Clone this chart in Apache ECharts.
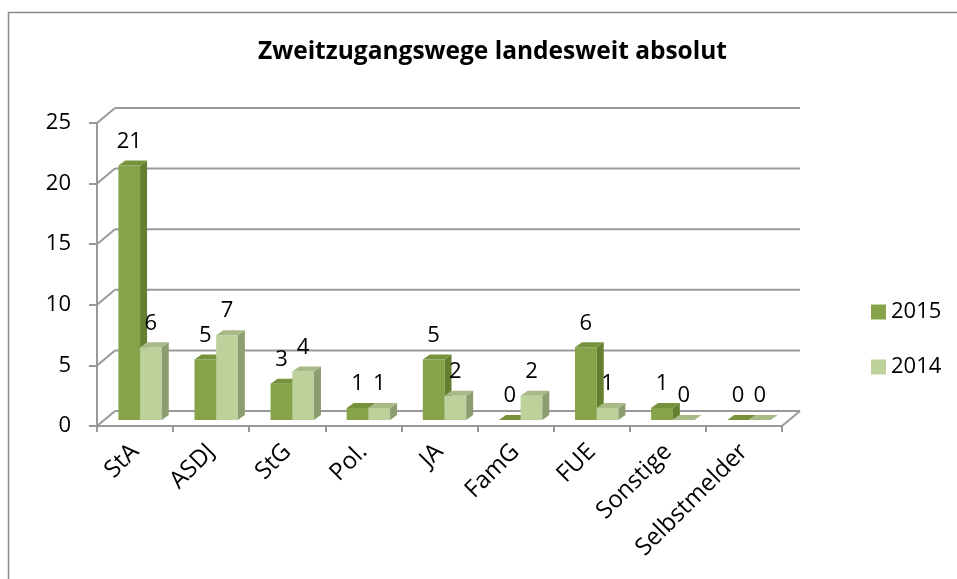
<!DOCTYPE html>
<html>
<head>
<meta charset="utf-8">
<script src="https://cdn.jsdelivr.net/npm/echarts@6/dist/echarts.min.js"></script>
<style>
  html, body { margin: 0; padding: 0; background: #fff; }
  #main { width: 957px; height: 579px; }
</style>
</head>
<body>
<div id="main"></div>
<script>
const categories = ['StA', 'ASDJ', 'StG', 'Pol.', 'JA', 'FamG', 'FUE', 'Sonstige', 'Selbstmelder'];
const values2015 = [21, 5, 3, 1, 5, 0, 6, 1, 0];
const values2014 = [6, 7, 4, 1, 2, 2, 1, 0, 0];
const yTicks = [0, 5, 10, 15, 20, 25];

const font = '"Open Sans", sans-serif';
const gridColor = '#999999';
// fake 3d: back wall offset, bar position inside the floor, bar depth
const wallDx = 18, wallDy = -15;
const barDx = 5, barDy = -6;
const depthX = 7, depthY = -5;

const colors2015 = { front: '#86a34a', side: '#657f30', top: '#76933b' };
const colors2014 = { front: '#bdd19b', side: '#8d9d70', top: '#a8bb87' };

const chart = echarts.init(document.getElementById('main'));

// back wall + floor lines, one entry per y tick
function wallItem(params, api) {
    const v = api.value(1);
    const cs = params.coordSys;
    const y = api.coord([0, v])[1];
    const x0 = cs.x, x1 = cs.x + cs.width;
    const style = { stroke: gridColor, lineWidth: 2 };
    const children = [
        { type: 'line', shape: { x1: x0, y1: y, x2: x0 + wallDx, y2: y + wallDy }, style },
        { type: 'line', shape: { x1: x0 + wallDx, y1: y + wallDy, x2: x1 + wallDx, y2: y + wallDy }, style }
    ];
    if (v === 0) {
        children.push({ type: 'line', shape: { x1: x1, y1: y, x2: x1 + wallDx, y2: y + wallDy }, style });
    }
    return { type: 'group', children };
}

function barItem(slot, c) {
    return function (params, api) {
        const i = api.value(0), v = api.value(1);
        const base = api.coord([i, 0]);
        const tip = api.coord([i, v]);
        const band = api.size([1, 0])[0];
        const w = band * 0.285;
        const xl = base[0] - w + slot * w + barDx;
        const xr = xl + w;
        const yb = base[1] + barDy;
        const yt = tip[1] + barDy;
        return {
            type: 'group',
            children: [
                { type: 'rect', shape: { x: xl, y: yt, width: w, height: yb - yt }, style: { fill: c.front } },
                { type: 'polygon', shape: { points: [[xr, yb], [xr + depthX, yb + depthY], [xr + depthX, yt + depthY], [xr, yt]] }, style: { fill: c.side } },
                { type: 'polygon', shape: { points: [[xl, yt], [xr, yt], [xr + depthX, yt + depthY], [xl + depthX, yt + depthY]] }, style: { fill: c.top } },
                {
                    type: 'text',
                    style: {
                        text: String(v), x: xl + w / 2, y: yt + depthY - 8,
                        align: 'center', verticalAlign: 'bottom',
                        textAlign: 'center', textVerticalAlign: 'bottom',
                        fill: '#000', fontSize: 22, fontFamily: font
                    }
                }
            ]
        };
    };
}

const option = {
    backgroundColor: '#fff',
    animation: false,
    title: {
        text: 'Zweitzugangswege landesweit absolut',
        left: 253,
        top: 35,
        textStyle: { fontFamily: font, fontSize: 24.5, fontWeight: 'bold', color: '#000' }
    },
    graphic: [{
        type: 'rect',
        shape: { x: 8.5, y: 12.5, width: 1200, height: 1200 },
        style: { fill: null, stroke: '#8a8a8a', lineWidth: 1.5 },
        silent: true
    }],
    legend: {
        orient: 'vertical',
        left: 866,
        top: 296,
        itemWidth: 15,
        itemHeight: 15,
        itemGap: 33,
        icon: 'rect',
        data: ['2015', '2014'],
        textStyle: { fontFamily: font, fontSize: 22, color: '#000' }
    },
    grid: { left: 97, right: 175, top: 123, bottom: 153, containLabel: false },
    xAxis: {
        type: 'category',
        data: categories,
        axisLine: { lineStyle: { color: gridColor, width: 2 } },
        axisTick: { show: true, length: 6, lineStyle: { color: gridColor, width: 2 } },
        axisLabel: { rotate: 45, margin: 22, color: '#000', fontSize: 24, fontFamily: font, interval: 0 }
    },
    yAxis: {
        type: 'value',
        min: 0,
        max: 25,
        interval: 5,
        axisLine: { show: true, lineStyle: { color: gridColor, width: 2 } },
        axisTick: { show: true, length: 8, lineStyle: { color: gridColor, width: 2 } },
        axisLabel: { margin: 26, color: '#000', fontSize: 22, fontFamily: font },
        splitLine: { show: false }
    },
    series: [
        {
            name: 'wall',
            type: 'custom',
            z: 1,
            silent: true,
            renderItem: wallItem,
            encode: { x: 0, y: 1 },
            data: yTicks.map(t => [0, t])
        },
        {
            name: '2015',
            type: 'custom',
            z: 2,
            itemStyle: { color: colors2015.front },
            renderItem: barItem(0, colors2015),
            encode: { x: 0, y: 1 },
            data: values2015.map((v, i) => [i, v])
        },
        {
            name: '2014',
            type: 'custom',
            z: 3,
            itemStyle: { color: colors2014.front },
            renderItem: barItem(1, colors2014),
            encode: { x: 0, y: 1 },
            data: values2014.map((v, i) => [i, v])
        }
    ]
};

chart.setOption(option);
</script>
</body>
</html>
